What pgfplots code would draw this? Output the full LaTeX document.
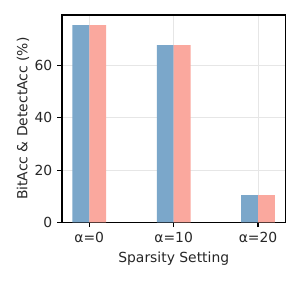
\documentclass[border=0pt]{standalone}
\usepackage{pgfplots}
\pgfplotsset{compat=1.18}
\usepackage{fontspec}
\setmainfont{DejaVu Sans}
\definecolor{barblue}{RGB}{123,167,202}
\definecolor{barpink}{RGB}{250,168,158}
\definecolor{gridgray}{RGB}{230,230,230}
\begin{document}
\begin{tikzpicture}
\path (0,0) rectangle (216pt,201.6pt);
\begin{axis}[
  at={(44.64pt,41.5pt)}, anchor=south west,
  scale only axis, width=160.9pt, height=149.3pt,
  xmin=-0.323, xmax=2.325, ymin=0, ymax=79.3,
  xtick={0,1,2}, xticklabels={α=0,α=10,α=20},
  ytick={0,20,40,60},
  tick align=outside, major tick length=3.5pt,
  tick style={black, line width=0.8pt},
  axis line style={line width=0.8pt},
  xtick pos=bottom, ytick pos=left,
  grid=major, grid style={gridgray, line width=0.6pt},
  /pgf/number format/assume math mode=true,
  tick label style={font=\fontsize{10}{12}\selectfont, text=black!85},
  label style={font=\fontsize{10}{12}\selectfont, text=black!85},
  xlabel={Sparsity Setting},
  ylabel={BitAcc \& DetectAcc (\%)},
  xlabel style={yshift=0pt},
  ylabel style={yshift=-3pt},
]
\addplot[ybar, bar width=0.2, bar shift=-0.1, fill=barblue, draw=none] coordinates {(0,75.4) (1,67.8) (2,10.4)};
\addplot[ybar, bar width=0.2, bar shift=0.1, fill=barpink, draw=none] coordinates {(0,75.4) (1,67.8) (2,10.4)};
\end{axis}
\end{tikzpicture}
\end{document}
